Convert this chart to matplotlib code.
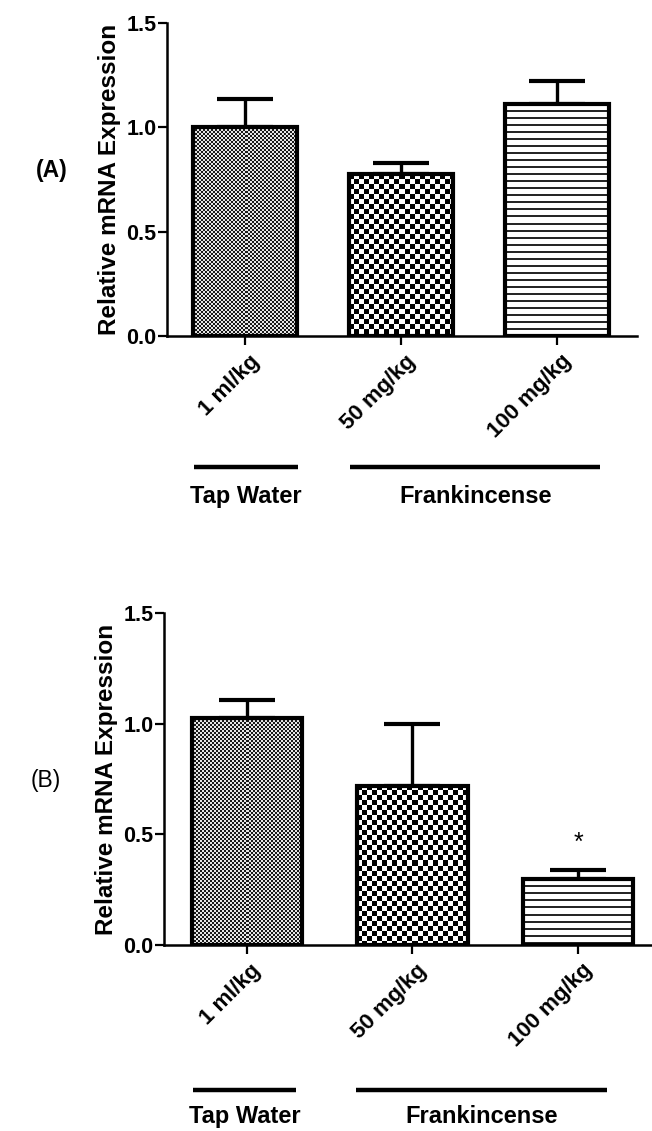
import numpy as np
import matplotlib
matplotlib.use('Agg')
import matplotlib.pyplot as plt

# ------------------------------------------------------------------
# Data
# ------------------------------------------------------------------
doses = ['1 ml/kg', '50 mg/kg', '100 mg/kg']
groups = ['Tap Water', 'Frankincense']

mean_a = [1.00, 0.775, 1.113]
sem_a = [0.135, 0.055, 0.110]

mean_b = [1.024, 0.719, 0.299]
sem_b = [0.085, 0.281, 0.042]

star_b = ['', '', '*']

y_ticks = [0.0, 0.5, 1.0, 1.5]

plt.rcParams['font.family'] = ['Liberation Sans', 'DejaVu Sans']

fig = plt.figure(figsize=(6.52, 11.31), dpi=100)
W, H = 652, 1131


def make_texture(kind, wpx, hpx):
    jj, ii = np.meshgrid(np.arange(wpx), np.arange(hpx))
    if kind == 'fine':
        s = 2
        img = ((ii // s + jj // s) % 2) * 0.8 + 0.1
    elif kind == 'checker':
        s = 5
        img = ((ii // s + jj // s) % 2).astype(float)
    else:
        img = np.where((ii % 7) < 2, 0.15, 1.0)
    return img


def draw_panel(rect, means, sems, letter, letter_pos, letter_bold, group_spans,
               line_y, text_y, xmax, stars=None):
    ax = fig.add_axes(rect)
    x = np.arange(len(means))
    ax.set_xlim(-0.5, xmax)
    ax.set_ylim(0, 1.5)

    ax.errorbar(x, means, yerr=[np.zeros(len(means)), sems], fmt='none',
                ecolor='black', elinewidth=2.4, capsize=20, capthick=3.0,
                zorder=1)
    bars = ax.bar(x, means, width=0.667, facecolor='none', edgecolor='black',
                  linewidth=3.0, zorder=3)

    kinds = ['fine', 'checker', 'lines']
    for b, k in zip(bars, kinds):
        x0, y0 = b.get_x(), b.get_y()
        x1, y1 = x0 + b.get_width(), y0 + b.get_height()
        p0 = ax.transData.transform((x0, y0))
        p1 = ax.transData.transform((x1, y1))
        wpx = max(int(round(p1[0] - p0[0])), 2)
        hpx = max(int(round(p1[1] - p0[1])), 2)
        tex = make_texture(k, wpx, hpx)
        ax.imshow(tex, extent=(x0, x1, y0, y1), cmap='gray', vmin=0, vmax=1,
                  interpolation='nearest', aspect='auto', origin='upper',
                  clip_path=b, zorder=2)

    ax.set_xlim(-0.5, xmax)
    ax.set_ylim(0, 1.5)

    for s in ['top', 'right']:
        ax.spines[s].set_visible(False)
    for s in ['left', 'bottom']:
        ax.spines[s].set_linewidth(1.8)

    ax.set_yticks(y_ticks)
    ax.set_yticklabels([f'{v:.1f}' for v in y_ticks], fontsize=15.5,
                       fontweight='bold')
    ax.tick_params(axis='y', length=6.5, width=1.6, pad=1)
    ax.set_xticks(x)
    ax.set_xticklabels([])
    ax.tick_params(axis='x', length=6.5, width=1.6)

    for xi, lab in zip(x, doses):
        ax.annotate(lab, xy=(xi, 0), xycoords=('data', 'axes fraction'),
                    xytext=(8, -16), textcoords='offset points',
                    rotation=45, rotation_mode='anchor', ha='right',
                    va='center', fontsize=16, fontweight='bold')

    ax.set_ylabel('Relative mRNA Expression', fontsize=17.5,
                  fontweight='bold', labelpad=4)

    tr = ax.get_xaxis_transform()
    for g, (g0, g1) in zip(groups, group_spans):
        ax.plot([g0, g1], [line_y, line_y], color='black', linewidth=3.2,
                transform=tr, clip_on=False, solid_capstyle='butt')
        ax.text((g0 + g1) / 2, text_y, g, transform=tr, ha='center',
                va='center', fontsize=17, fontweight='bold')

    if stars:
        for xi, m, e, st in zip(x, means, sems, stars):
            if st:
                ax.text(xi, m + e + 0.12, st, ha='center', va='center',
                        fontsize=18)

    fig.text(letter_pos[0] / W, 1 - letter_pos[1] / H, letter, ha='center',
             va='center', fontsize=16.5,
             fontweight='bold' if letter_bold else 'normal')
    return ax


# ------------------------------------------------------------------
# Panel A
# ------------------------------------------------------------------
rect_a = [167 / W, 1 - 336 / H, (637 - 167) / W, (336 - 23) / H]
draw_panel(rect_a, mean_a, sem_a, '(A)', (52, 170), True,
           [(-0.327, 0.34), (0.673, 2.276)], -0.419, -0.514, 2.51)

# ------------------------------------------------------------------
# Panel B
# ------------------------------------------------------------------
rect_b = [164 / W, 1 - 945 / H, (651 - 164) / W, (945 - 613) / H]
draw_panel(rect_b, mean_b, sem_b, '(B)', (46, 780), False,
           [(-0.326, 0.296), (0.66, 2.175)], -0.437, -0.518, 2.44,
           stars=star_b)

plt.savefig('out.png', dpi=100)
